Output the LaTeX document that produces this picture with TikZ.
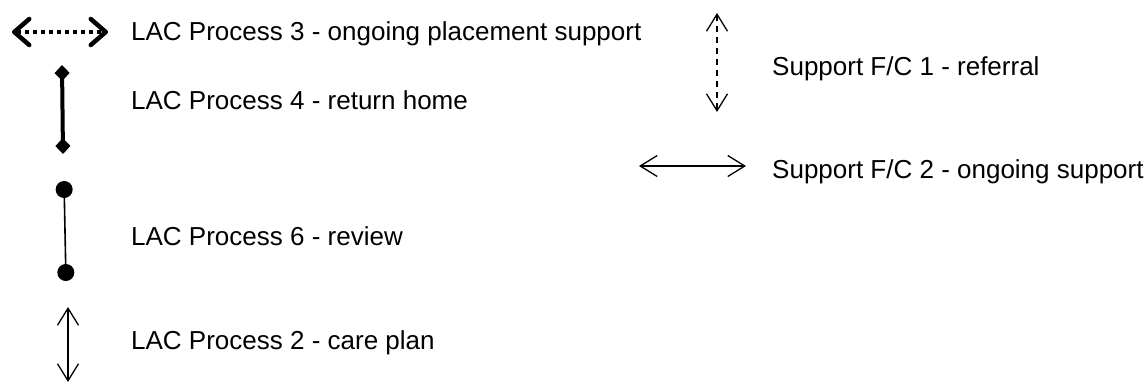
\documentclass[tikz,border=0pt]{standalone}
\usepackage{fontspec}
\setmainfont{Liberation Sans}
\usetikzlibrary{arrows.meta}
\begin{document}
\begin{tikzpicture}[x=1pt,y=-1pt,
  lbl/.style={anchor=base west,inner sep=0pt,font=\fontsize{26}{31}\selectfont},
  thinarrow/.style={line width=1.3pt,{Straight Barb[length=17pt,width=21pt]}-{Straight Barb[length=17pt,width=21pt]}},
  dottedarrow/.style={line width=4.5pt,dash pattern=on 4pt off 4pt,{Straight Barb[length=15pt,width=26pt,line cap=round,line join=round]}-{Straight Barb[length=15pt,width=26pt,line cap=round,line join=round]}},
  diamondline/.style={line width=4pt,{Diamond[length=16pt,width=15pt]}-{Diamond[length=16pt,width=15pt]}},
  circleline/.style={line width=1.6pt,{Circle[length=17pt]}-{Circle[length=17pt]}}]
\useasboundingbox (0,0) rectangle (1144,383);
% coordinates
\coordinate (d1) at (12,32);
\coordinate (d2) at (108,32);
\coordinate (m1) at (62,65);
\coordinate (m2) at (63,154);
\coordinate (c1) at (64,181);
\coordinate (c2) at (66,281);
\coordinate (a1) at (68,307);
\coordinate (a2) at (68,382);
\coordinate (v1) at (717,13);
\coordinate (v2) at (717,112);
\coordinate (h1) at (639,166);
\coordinate (h2) at (746,166);
% connectors
\draw[dottedarrow] (d1) -- (d2);
\draw[diamondline] (m1) -- (m2);
\draw[circleline] (c1) -- (c2);
\draw[thinarrow] (a1) -- (a2);
\draw[thinarrow,dash pattern=on 6pt off 5pt] (v1) -- (v2);
\draw[thinarrow] (h1) -- (h2);
% labels
\node[lbl] (t3) at (131,40) {LAC Process 3 - ongoing placement support};
\node[lbl] (t4) at (131,109) {LAC Process 4 - return home};
\node[lbl] (t6) at (131,245) {LAC Process 6 - review};
\node[lbl] (t2) at (131,349) {LAC Process 2 - care plan};
\node[lbl] (s1) at (772,75) {Support F/C 1 - referral};
\node[lbl] (s2) at (772,178) {Support F/C 2 - ongoing support};
\end{tikzpicture}
\end{document}
